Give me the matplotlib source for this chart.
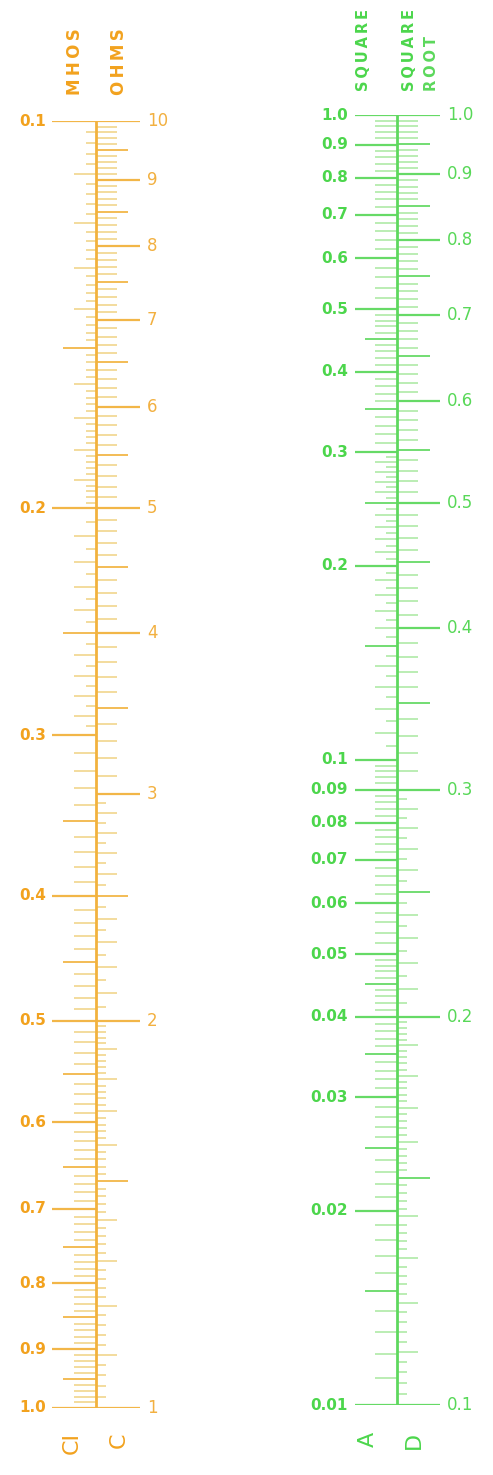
import numpy as np
import matplotlib
matplotlib.use("Agg")
import matplotlib.pyplot as plt

W, H = 493, 1475

# --- scale data -------------------------------------------------------------
# subdivisions: (low, high, step, level1 step, mid step, major step)
ohms_parts = [(1, 2, 0.02, 0.1, 0.5, 1), (2, 3, 0.05, 0.1, 0.5, 1), (3, 10, 0.1, 0.1, 0.5, 1)]
mhos_parts = [(0.1, 0.2, 0.002, 0.01, 0.05, 0.1), (0.2, 0.3, 0.005, 0.01, 0.05, 0.1),
              (0.3, 1.0, 0.01, 0.01, 0.05, 0.1)]
square_parts = [(0.01, 0.02, 0.001, 0.001, 0.005, 0.01), (0.02, 0.05, 0.001, 0.001, 0.005, 0.01),
                (0.05, 0.1, 0.002, 0.002, 0.005, 0.01), (0.1, 0.3, 0.005, 0.01, 0.05, 0.1),
                (0.3, 0.5, 0.01, 0.01, 0.05, 0.1), (0.5, 1.0, 0.02, 0.02, 0.05, 0.1)]
root_parts = [(0.1, 0.2, 0.002, 0.01, 0.05, 0.1), (0.2, 0.3, 0.005, 0.01, 0.05, 0.1),
              (0.3, 1.0, 0.01, 0.01, 0.05, 0.1)]

ohms_labels = ["1", "2", "3", "4", "5", "6", "7", "8", "9", "10"]
ohms_values = [1, 2, 3, 4, 5, 6, 7, 8, 9, 10]
mhos_labels = ["0.1", "0.2", "0.3", "0.4", "0.5", "0.6", "0.7", "0.8", "0.9", "1.0"]
mhos_values = [0.1, 0.2, 0.3, 0.4, 0.5, 0.6, 0.7, 0.8, 0.9, 1.0]
square_labels = ["0.01", "0.02", "0.03", "0.04", "0.05", "0.06", "0.07", "0.08", "0.09",
                 "0.1", "0.2", "0.3", "0.4", "0.5", "0.6", "0.7", "0.8", "0.9", "1.0"]
square_values = [0.01, 0.02, 0.03, 0.04, 0.05, 0.06, 0.07, 0.08, 0.09,
                 0.1, 0.2, 0.3, 0.4, 0.5, 0.6, 0.7, 0.8, 0.9, 1.0]
root_labels = ["0.1", "0.2", "0.3", "0.4", "0.5", "0.6", "0.7", "0.8", "0.9", "1.0"]
root_values = [0.1, 0.2, 0.3, 0.4, 0.5, 0.6, 0.7, 0.8, 0.9, 1.0]

ORANGE = "#F2A21E"
ORANGE_LINE = "#F2B23E"
ORANGE_MINOR = "#EFD07C"
GREEN = "#4CD64C"
GREEN_LINE = "#5ED85E"
GREEN_MINOR = "#A4E79A"


def is_mult(v, s):
    r = v / s
    return abs(r - round(r)) < 1e-6


def ticks(parts):
    out = []
    for lo, hi, step, l1, mid, major in parts:
        n = int(round((hi - lo) / step))
        for i in range(n):
            v = lo + i * step
            if is_mult(v, major):
                lev = 0
            elif is_mult(v, mid):
                lev = 1
            elif is_mult(v, l1):
                lev = 2
            else:
                lev = 3
            out.append((v, lev))
    out.append((parts[-1][1], 0))
    return out


def draw_side(ax, parts, x0, ends, transform_val, col_major, col_minor):
    for v, lev in ticks(parts):
        y = transform_val(v)
        c = col_major if lev < 2 else col_minor
        lw = 1.6 if lev == 0 else (1.3 if lev == 1 else 1.1)
        ax.hlines(y, x0, ends[lev], color=c, lw=lw, alpha=0.95)


fig = plt.figure(figsize=(W / 100, H / 100), dpi=100)

# --- left: C / CI ---------------------------------------------------------------
axl = fig.add_axes([0, (H - 1408) / H, 1, 1287 / H])
axl.set_yscale("log")
axl.set_ylim(1, 10)
axl.set_xlim(0, W)
axl.axis("off")

draw_side(axl, ohms_parts, 96, [140, 128, 117, 106], lambda v: v, ORANGE_LINE, ORANGE_MINOR)
draw_side(axl, mhos_parts, 96, [52, 63, 74, 86], lambda v: 1.0 / v, ORANGE_LINE, ORANGE_MINOR)
axl.vlines(96, 1, 10, color=ORANGE_LINE, lw=2.0)

for lab, v in zip(ohms_labels, ohms_values):
    axl.text(147, v, lab, color="#F2B040", fontsize=12, ha="left", va="center")
for lab, v in zip(mhos_labels, mhos_values):
    axl.text(46, 1.0 / v, lab, color=ORANGE, fontsize=11, fontweight="bold", ha="right", va="center")

# --- right: A / D ---------------------------------------------------------------
axr = fig.add_axes([0, (H - 1405) / H, 1, 1290 / H])
axr.set_yscale("log")
axr.set_ylim(0.1, 1)
axr.set_xlim(0, W)
axr.axis("off")

draw_side(axr, root_parts, 397, [440, 430, 418, 407], lambda v: v, GREEN_LINE, GREEN_MINOR)
draw_side(axr, square_parts, 397, [355, 365, 375, 386], np.sqrt, GREEN_LINE, GREEN_MINOR)
axr.vlines(397, 0.1, 1, color=GREEN_LINE, lw=2.0)

for lab, v in zip(root_labels, root_values):
    axr.text(447, v, lab, color="#58D858", fontsize=12, ha="left", va="center")
for lab, v in zip(square_labels, square_values):
    axr.text(348, np.sqrt(v), lab, color=GREEN, fontsize=11, fontweight="bold", ha="right", va="center")


# --- headers and scale letters ---------------------------------------------------------
def ftext(x, y, s, **kw):
    fig.text(x / W, 1 - y / H, s, rotation=90, ha="center", **kw)


def spaced(s):
    return "\u2009".join(s)


ftext(75, 95, spaced("MHOS"), va="bottom", color=ORANGE, fontsize=12, fontweight="bold")
ftext(119, 95, spaced("OHMS"), va="bottom", color=ORANGE, fontsize=12, fontweight="bold")
ftext(363, 91, spaced("SQUARE"), va="bottom", color=GREEN, fontsize=10.5, fontweight="bold")
ftext(409, 91, spaced("SQUARE"), va="bottom", color=GREEN, fontsize=10.5, fontweight="bold")
ftext(431, 91, spaced("ROOT"), va="bottom", color="#5CD85C", fontsize=10.5, fontweight="bold")

ftext(72, 1432, "CI", va="top", color=ORANGE, fontsize=16)
ftext(119, 1432, "C", va="top", color=ORANGE, fontsize=16)
ftext(368, 1432, "A", va="top", color=GREEN, fontsize=16)
ftext(414, 1432, "D", va="top", color=GREEN, fontsize=16)

fig.savefig("out.png", dpi=100, facecolor="white")
